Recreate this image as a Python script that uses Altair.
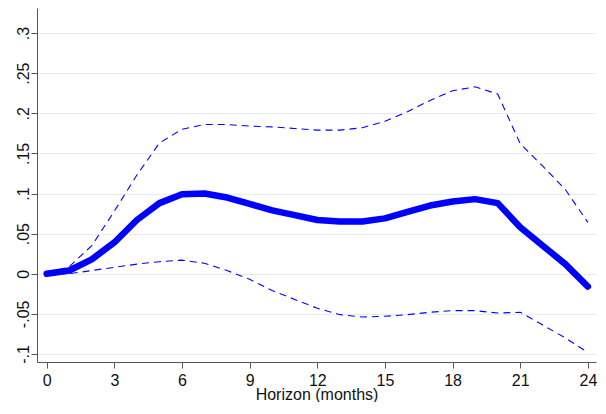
import altair as alt
import pandas as pd

# Data
horizon = list(range(25))
irf = [0.000, 0.004, 0.018, 0.039, 0.067, 0.088, 0.099, 0.100, 0.095, 0.087,
       0.079, 0.073, 0.067, 0.065, 0.065, 0.069, 0.077, 0.085, 0.090, 0.093,
       0.088, 0.058, 0.035, 0.012, -0.016]
upper = [0.000, 0.009, 0.035, 0.078, 0.123, 0.163, 0.180, 0.186, 0.186, 0.184,
         0.183, 0.181, 0.179, 0.179, 0.182, 0.190, 0.202, 0.216, 0.228, 0.233,
         0.224, 0.162, 0.134, 0.105, 0.064]
lower = [0.000, 0.000, 0.004, 0.008, 0.012, 0.015, 0.017, 0.013, 0.004, -0.007,
         -0.021, -0.032, -0.043, -0.051, -0.054, -0.053, -0.051, -0.048, -0.046, -0.046,
         -0.049, -0.048, -0.064, -0.080, -0.098]

x_ticks = [0, 3, 6, 9, 12, 15, 18, 21, 24]
y_ticks = [-0.1, -0.05, 0, 0.05, 0.1, 0.15, 0.2, 0.25, 0.3]

df = pd.DataFrame({"h": horizon, "irf": irf, "upper": upper, "lower": lower})

FONT = "Liberation Sans"
BLUE = "#0000ff"

x_enc = alt.X(
    "h:Q",
    scale=alt.Scale(domain=[-0.43, 24.36], nice=False, zero=False),
    axis=alt.Axis(
        values=x_ticks, grid=False, tickSize=6, tickColor="#555555",
        domainColor="#555555", labelFontSize=16, labelFont=FONT, labelColor="#111111",
        labelPadding=17, labelBaseline="alphabetic", labelFlush=False,
        title="Horizon (months)", titleFont=FONT, titleFontSize=16,
        titleFontWeight="normal", titleColor="#111111",
        titleBaseline="alphabetic", titleY=37,
    ),
)

y_scale = alt.Scale(domain=[-0.110, 0.3312], nice=False, zero=False)
y_axis = alt.Axis(
    values=y_ticks, grid=True, gridColor="#e4ecef", gridWidth=1,
    tickSize=6, tickColor="#555555", domainColor="#555555",
    labelAngle=270, labelAlign="center", labelBaseline="alphabetic",
    labelPadding=3, labelFontSize=16, labelFont=FONT, labelColor="#111111",
    labelOverlap=False, labelFlush=False,
    labelExpr="replace(toString(datum.value), '0.', '.')",
    title=None,
)

base = alt.Chart(df)

upper_line = base.mark_line(color=BLUE, strokeWidth=1.1, strokeDash=[7, 5]).encode(
    x=x_enc, y=alt.Y("upper:Q", scale=y_scale, axis=y_axis)
)
lower_line = base.mark_line(color=BLUE, strokeWidth=1.1, strokeDash=[7, 5]).encode(
    x=x_enc, y=alt.Y("lower:Q", scale=y_scale, axis=y_axis)
)
main_line = base.mark_line(color=BLUE, strokeWidth=6.5, strokeCap="round", strokeJoin="round").encode(
    x=x_enc, y=alt.Y("irf:Q", scale=y_scale, axis=y_axis)
)

chart = (
    alt.layer(upper_line, lower_line, main_line)
    .properties(
        width=559, height=354,
        padding={"left": 29, "top": 0, "right": 2, "bottom": 40},
        autosize=alt.AutoSizeParams(type="none"),
        background="white",
    )
    .configure_view(stroke=None)
)

chart.save("out.html", embed_options={"renderer": "svg", "actions": False})
